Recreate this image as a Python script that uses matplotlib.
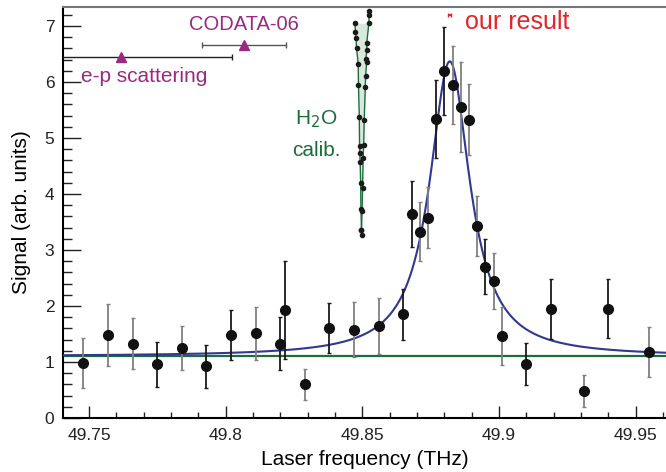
import numpy as np
import matplotlib.pyplot as plt
from matplotlib.ticker import MultipleLocator, FuncFormatter

plt.rcParams['font.family'] = ['Liberation Sans', 'DejaVu Sans']

# measured points (THz, arb. units)
freq = [49.748, 49.757, 49.766, 49.775, 49.784, 49.793, 49.802, 49.811,
        49.820, 49.8216, 49.829, 49.838, 49.847, 49.856, 49.865, 49.868,
        49.871, 49.874, 49.877, 49.880, 49.883, 49.886, 49.889, 49.892,
        49.895, 49.898, 49.901, 49.910, 49.919, 49.931, 49.940, 49.955]
signal = [0.98, 1.48, 1.33, 0.96, 1.25, 0.92, 1.48, 1.51,
          1.33, 1.93, 0.60, 1.61, 1.58, 1.64, 1.85, 3.64,
          3.33, 3.58, 5.34, 6.20, 5.95, 5.55, 5.33, 3.43,
          2.70, 2.44, 1.47, 0.97, 1.95, 0.48, 1.95, 1.18]
sig_err = [0.44, 0.55, 0.45, 0.40, 0.39, 0.38, 0.45, 0.48,
           0.47, 0.87, 0.27, 0.45, 0.49, 0.50, 0.46, 0.59,
           0.52, 0.55, 0.69, 0.78, 0.70, 0.80, 0.64, 0.54,
           0.49, 0.50, 0.52, 0.375, 0.54, 0.28, 0.53, 0.45]
grey_bar = [1, 1, 1, 0, 1, 0, 0, 1, 0, 0, 1, 0, 1, 1, 0, 0,
            1, 1, 0, 0, 1, 1, 1, 1, 0, 1, 1, 0, 0, 1, 0, 1]

# lorentzian fit
fit_base = 1.10
fit_amp = 5.27
fit_center = 49.882
fit_hwhm = 0.0089

# water calibration scans
h2o_x1 = [49.8473, 49.8475, 49.8477, 49.8479, 49.8485, 49.8486, 49.8489,
          49.8490, 49.8491, 49.8492, 49.8494, 49.8495, 49.8497, 49.8499]
h2o_y1 = [7.05, 6.90, 6.78, 6.60, 6.33, 5.95, 5.38,
          4.85, 4.73, 4.58, 4.19, 3.74, 3.35, 3.27]
h2o_x2 = [49.8524, 49.8525, 49.8524, 49.8516, 49.8517, 49.8513, 49.8516,
          49.8512, 49.8511, 49.8507, 49.8505, 49.8503, 49.8501, 49.8499, 49.8497]
h2o_y2 = [7.26, 7.20, 7.05, 6.69, 6.57, 6.42, 6.36,
          6.10, 5.92, 5.32, 4.88, 4.64, 4.10, 3.69, 3.35]

# proton radius predictions
ep_x, ep_err, ep_y = 49.7617, 0.0407, 6.44
codata_x, codata_err, codata_y = 49.8068, 0.0153, 6.66
ours_x, ours_err, ours_y = 49.882, 0.0006, 7.20

purple = '#9a2a80'
green = '#1b6e3a'
red = '#e3262b'
blue = '#30388f'

fig = plt.figure(figsize=(6.66, 4.72), dpi=100)
ax = fig.add_axes([62.7 / 666, 54 / 472, 603.3 / 666, 411 / 472])

xs = np.linspace(49.74, 49.962, 600)
fit = fit_base + fit_amp * fit_hwhm**2 / ((xs - fit_center)**2 + fit_hwhm**2)
ax.axhline(fit_base, color=green, lw=1.6, zorder=2)
ax.plot(xs, fit, color=blue, lw=1.5, zorder=3)

for x, y, e, g in zip(freq, signal, sig_err, grey_bar):
    col = '#808080' if g else '#1a1a1a'
    ax.errorbar(x, y, yerr=e, fmt='none', ecolor=col, elinewidth=1.3,
                capsize=1.6, capthick=1.0, zorder=4)
ax.plot(freq, signal, 'o', color='#111111', ms=7, zorder=5)

# calibration
ax.fill_betweenx(h2o_y1, h2o_x1, np.interp(h2o_y1, h2o_y2[::-1], h2o_x2[::-1]),
                 color='#a9cdb4', alpha=0.45, lw=0, zorder=3)
ax.plot(h2o_x1, h2o_y1, '-', color=green, lw=1.0, zorder=4)
ax.plot(h2o_x2, h2o_y2, '-', color=green, lw=1.0, zorder=4)
ax.plot(h2o_x1, h2o_y1, 'o', color='#1a1a1a', ms=3, zorder=5)
ax.plot(h2o_x2, h2o_y2, 'o', color='#1a1a1a', ms=3, zorder=5)

ax.errorbar(ep_x, ep_y, xerr=ep_err, fmt='^', color=purple, ms=7,
            ecolor='#222222', elinewidth=1.0, capsize=2, zorder=5)
ax.errorbar(codata_x, codata_y, xerr=codata_err, fmt='^', color=purple, ms=7,
            ecolor='#555555', elinewidth=1.0, capsize=2, zorder=5)
ax.errorbar(ours_x, ours_y, xerr=ours_err, fmt='none', ecolor=red,
            elinewidth=1.5, capsize=1.5, zorder=5)

ax.text(49.8068, 7.02, 'CODATA-06', color=purple, fontsize=14.5,
        ha='center', va='center')
ax.text(49.7472, 6.10, 'e-p scattering', color=purple, fontsize=15,
        ha='left', va='center')
ax.text(49.8877, 7.08, 'our result', color=red, fontsize=18,
        ha='left', va='center')
ax.text(49.8332, 5.34, 'H$_2$O', color=green, fontsize=15,
        ha='center', va='center')
ax.text(49.8332, 4.77, 'calib.', color=green, fontsize=15,
        ha='center', va='center')

ax.set_xlim(49.7404, 49.9611)
ax.set_ylim(0, 7.34)
ax.xaxis.set_major_locator(MultipleLocator(0.05))
ax.xaxis.set_minor_locator(MultipleLocator(0.01))
ax.yaxis.set_major_locator(MultipleLocator(1))
ax.yaxis.set_minor_locator(MultipleLocator(0.2))
ax.xaxis.set_major_formatter(FuncFormatter(lambda v, p: '{:g}'.format(round(v, 3))))
ax.tick_params(axis='both', which='both', direction='in', width=1.0,
               labelsize=12.5, colors='#222222')
ax.tick_params(axis='x', which='major', length=8.5, pad=7)
ax.tick_params(axis='x', which='minor', length=4.3)
ax.tick_params(axis='y', which='major', length=13, pad=6)
ax.tick_params(axis='y', which='minor', length=6.5)
ax.tick_params(top=False, right=False)

ax.spines['right'].set_visible(False)
ax.spines['top'].set_color('#777777')
ax.spines['top'].set_linewidth(1.5)
ax.spines['left'].set_linewidth(1.5)
ax.spines['bottom'].set_linewidth(1.5)

ax.set_xlabel('Laser frequency (THz)', fontsize=15, labelpad=5)
ax.set_ylabel('Signal (arb. units)', fontsize=15, labelpad=10)

fig.savefig('out.png', dpi=100)
